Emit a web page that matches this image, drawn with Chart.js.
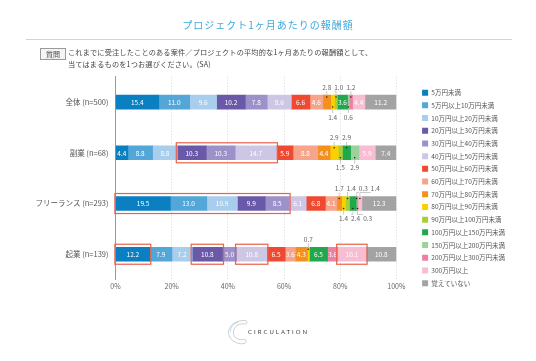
<!DOCTYPE html>
<html lang="ja">
<head>
<meta charset="utf-8">
<script src="https://cdn.jsdelivr.net/npm/chart.js@4.4.1/dist/chart.umd.min.js"></script>
<style>
  html, body { margin: 0; padding: 0; background: #fff; }
  body { width: 536px; height: 361px; position: relative; overflow: hidden; font-family: "Noto Sans CJK JP", sans-serif; }
  #chart { position: absolute; left: 0; top: 0; }
  .title { position: absolute; left: 0; width: 536px; top: 18px; text-align: center; color: #3fa9dc; font-size: 10px; line-height: 14px; letter-spacing: 1px; }
  .rule { position: absolute; left: 26px; width: 486px; top: 39px; border-top: 1px solid #b6dcf0; }
  .q-tag { position: absolute; left: 40px; top: 48px; width: 24px; height: 10px; border: 1px solid #9a9a9a; background: #f5f5f5; color: #444; font-size: 7px; line-height: 10px; text-align: center; }
  .q-text { position: absolute; left: 68px; top: 47px; color: #444; font-size: 7.2px; line-height: 11.5px; letter-spacing: 0.15px; }
  .logo { position: absolute; left: 226px; top: 318px; }
  .logo-text { position: absolute; left: 248px; top: 327px; font-family: Lato, sans-serif; font-size: 6px; line-height: 10px; letter-spacing: 2px; color: #444; }
</style>
</head>
<body>
<canvas id="chart" width="536" height="361"></canvas>
<div class="title">プロジェクト1ヶ月あたりの報酬額</div>
<div class="rule"></div>
<div class="q-tag">質問</div>
<div class="q-text">これまでに受注したことのある案件／プロジェクトの平均的な1ヶ月あたりの報酬額として、<br>当てはまるものを1つお選びください。(SA)</div>
<svg class="logo" width="22" height="28" viewBox="0 0 22 28">
  <path d="M19 2.5 C 9 2, 1.5 9, 2.5 15.5 C 3.5 22, 11 27, 18 25.5 C 21.5 24.5, 20.5 20.5, 16.5 21.5 C 10.5 22.5, 6.5 18, 7.5 13 C 8.5 8, 13.5 5, 18.5 6 C 21.5 6.5, 21.5 2.5, 19 2.5 Z" fill="none" stroke="#a9b0b6" stroke-width="0.6"/>
  <path d="M12 4 C 7 6, 4 10, 4.5 14" fill="none" stroke="#8fd0ee" stroke-width="0.7"/>
</svg>
<div class="logo-text">CIRCULATION</div>

<script>
// rows (respondent groups)
const categories = ['全体 (n=500)', '副業 (n=68)', 'フリーランス (n=293)', '起業 (n=139)'];

// income bands (legend)
const bands = [
  '5万円未満', '5万円以上10万円未満', '10万円以上20万円未満', '20万円以上30万円未満',
  '30万円以上40万円未満', '40万円以上50万円未満', '50万円以上60万円未満', '60万円以上70万円未満',
  '70万円以上80万円未満', '80万円以上90万円未満', '90万円以上100万円未満', '100万円以上150万円未満',
  '150万円以上200万円未満', '200万円以上300万円未満', '300万円以上', '覚えていない'
];

// % per band, one array per row
const allValues       = [15.4, 11.0, 9.6, 10.2, 7.8, 8.6, 6.6, 4.6, 2.8, 1.4, 1.0, 3.6, 0.6, 1.2, 4.4, 11.2];
const sideJobValues   = [4.4, 8.8, 8.8, 10.3, 10.3, 14.7, 5.9, 8.8, 4.4, 2.9, 1.5, 2.9, 2.9, 0, 5.9, 7.4];
const freelanceValues = [19.5, 13.0, 10.9, 9.9, 8.5, 6.1, 6.8, 4.1, 1.7, 1.4, 1.4, 2.4, 0.3, 0.3, 1.4, 12.3];
const startupValues   = [12.2, 7.9, 7.2, 10.8, 5.0, 10.8, 6.5, 3.6, 4.3, 0.7, 0, 6.5, 0, 3.6, 10.1, 10.8];

const xTicks = [0, 20, 40, 60, 80, 100];

// red boxes: row index, first band index, last band index
const highlights = [
  [1, 3, 5],
  [2, 0, 4],
  [3, 0, 0],
  [3, 3, 3],
  [3, 5, 5],
  [3, 14, 14]
];

const colors = [
  '#0a7fc2', '#52a6d8', '#a9cdec', '#6a58a8', '#9d91c9', '#cdc7e5', '#ef4a31', '#f6a48b',
  '#f5901f', '#f9d100', '#a8cf3b', '#21a84c', '#9bd19a', '#ef80a2', '#f8bdd2', '#a3a3a3'
];

const rows = [allValues, sideJobValues, freelanceValues, startupValues];

const datasets = bands.map((name, j) => ({
  label: name,
  data: rows.map(r => r[j]),
  backgroundColor: colors[j],
  borderWidth: 0,
  barThickness: 14
}));

const FONT = '"Noto Sans CJK JP", sans-serif';

// value labels: inside for wide segments, outside (alternating above / below) for small ones
const valueLabels = {
  id: 'valueLabels',
  afterDatasetsDraw(chart) {
    const ctx = chart.ctx;
    ctx.save();
    ctx.font = '6.5px ' + FONT;
    ctx.textBaseline = 'middle';
    ctx.textAlign = 'center';
    rows.forEach((row, i) => {
      const used = { up: -1e9, down: -1e9 };
      let nextUp = true;
      chart.data.datasets.forEach((ds, j) => {
        const v = ds.data[i];
        if (!v) return;
        const bar = chart.getDatasetMeta(j).data[i];
        const cx = (bar.x + bar.base) / 2;
        const top = bar.y - bar.height / 2;
        const bottom = bar.y + bar.height / 2;
        const txt = v.toFixed(1);
        if (v >= 3.5) {
          ctx.fillStyle = '#fff';
          ctx.fillText(txt, cx, bar.y + 0.5);
          return;
        }
        const w = ctx.measureText(txt).width;
        const up = nextUp;
        nextUp = !nextUp;
        const side = up ? 'up' : 'down';
        const lx = Math.max(cx, used[side] + 3 + w / 2);
        used[side] = lx + w / 2;
        const ty = up ? top - 8 : bottom + 8;
        const edge = up ? top : bottom;
        const ly = up ? ty + 4 : ty - 4;
        ctx.strokeStyle = '#999';
        ctx.lineWidth = 0.5;
        ctx.beginPath();
        ctx.moveTo(cx, edge);
        ctx.lineTo(cx, ly);
        if (lx !== cx) ctx.lineTo(lx - w / 2, ly);
        ctx.stroke();
        ctx.fillStyle = '#222';
        ctx.beginPath();
        ctx.arc(cx, up ? top + 2 : bottom - 2, 0.8, 0, Math.PI * 2);
        ctx.fill();
        ctx.fillStyle = '#666';
        ctx.fillText(txt, lx, ty);
      });
    });
    ctx.restore();
  }
};

const highlightBoxes = {
  id: 'highlightBoxes',
  afterDatasetsDraw(chart) {
    const ctx = chart.ctx;
    ctx.save();
    ctx.strokeStyle = '#e9604b';
    ctx.lineWidth = 1.2;
    highlights.forEach(([row, from, to]) => {
      const a = chart.getDatasetMeta(from).data[row];
      const b = chart.getDatasetMeta(to).data[row];
      const x1 = Math.min(a.base, a.x) - 1;
      const x2 = Math.max(b.base, b.x) + 1;
      const y1 = a.y - a.height / 2 - 3;
      const y2 = a.y + a.height / 2 + 3;
      ctx.strokeRect(x1, y1, x2 - x1, y2 - y1);
    });
    ctx.restore();
  }
};

new Chart(document.getElementById('chart'), {
  type: 'bar',
  data: { labels: categories, datasets: datasets },
  plugins: [valueLabels, highlightBoxes],
  options: {
    indexAxis: 'y',
    responsive: false,
    animation: false,
    layout: { padding: { top: 76.7, bottom: 61.9, left: 0, right: 21 } },
    scales: {
      x: {
        stacked: true,
        min: 0,
        max: 100,
        afterBuildTicks: s => { s.ticks = xTicks.map(v => ({ value: v })); },
        afterFit: s => { s.height = 19.5; },
        grid: {
          drawTicks: false,
          color: c => (c.tick && c.tick.value === 0) ? 'rgba(0,0,0,0)' : '#d0d0d0',
          lineWidth: 0.8
        },
        border: { display: false, dash: [1, 2] },
        ticks: {
          padding: 3,
          color: '#666',
          font: { size: 7, family: FONT },
          callback: v => v + '%'
        }
      },
      y: {
        stacked: true,
        afterFit: s => { s.width = 115.5; },
        grid: { display: false, drawTicks: false },
        border: { display: true, color: '#999', width: 1 },
        ticks: { padding: 7, color: '#555', font: { size: 7.5, family: FONT } }
      },
      gap: {
        type: 'linear',
        axis: 'y',
        position: 'right',
        grid: { display: false, drawTicks: false },
        border: { display: false },
        ticks: { display: false },
        afterFit: s => { s.width = 19.5; }
      }
    },
    plugins: {
      tooltip: { enabled: false },
      legend: {
        position: 'right',
        align: 'center',
        maxWidth: 140,
        labels: {
          boxWidth: 6,
          boxHeight: 6,
          padding: 6.2,
          color: '#555',
          font: { size: 6.5, family: FONT }
        }
      }
    }
  }
});
</script>
</body>
</html>
